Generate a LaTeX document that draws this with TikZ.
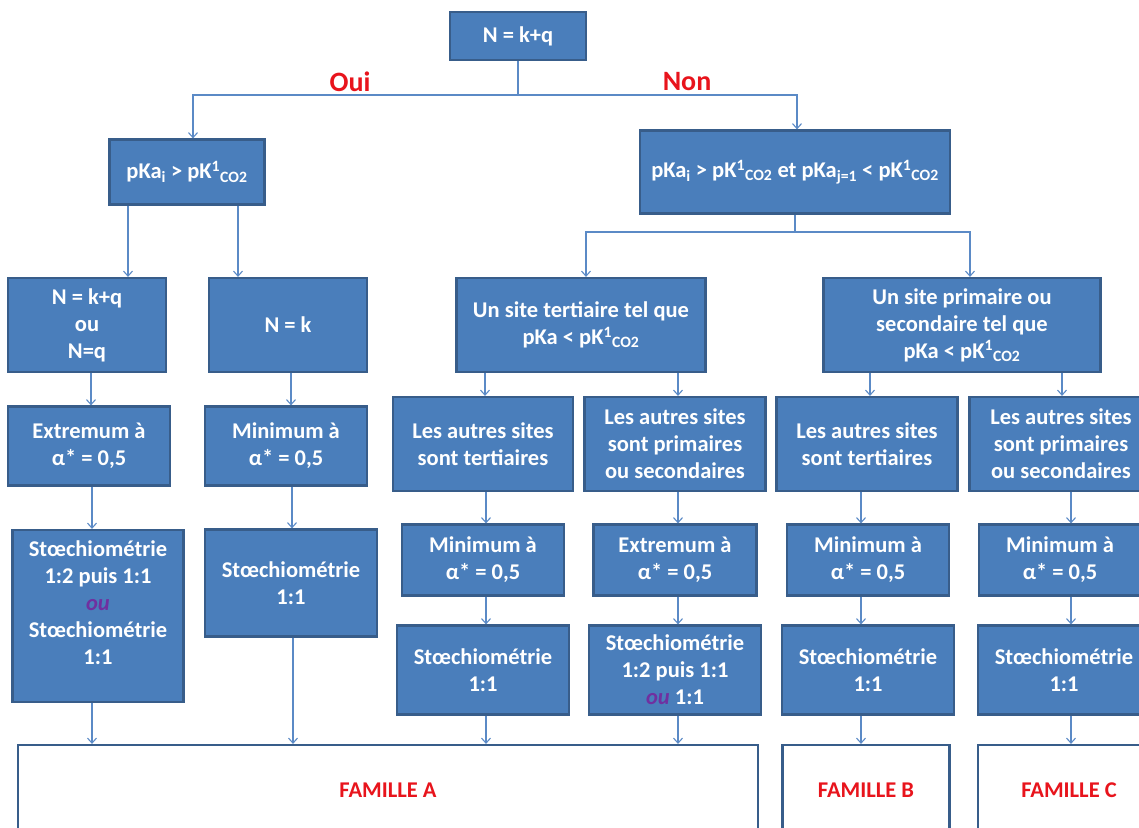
\documentclass[tikz,border=0pt]{standalone}
\usepackage{fontspec}
\setmainfont{Carlito}
\usetikzlibrary{arrows.meta}
\definecolor{boxblue}{HTML}{4A7EBB}
\definecolor{boxedge}{HTML}{385D8A}
\definecolor{linkblue}{HTML}{5B8AC6}
\definecolor{labelred}{HTML}{E8141C}
\definecolor{oupurple}{HTML}{7030A0}
\newcommand{\pkco}{pK\textsuperscript{1}\textsubscript{CO2}}
\newcommand{\oumark}{\textcolor{oupurple}{\itshape ou}}
\tikzstyle{decision} = [
    rectangle,
    draw=boxedge,
    fill=boxblue,
    line width=2.2pt,
    text=white,
    align=center,
    inner sep=2pt,
    font=\bfseries\fontsize{22.5}{27}\selectfont
]
\tikzstyle{family} = [
    rectangle,
    draw=boxedge,
    fill=white,
    line width=2.2pt,
    text=labelred,
    font=\bfseries\fontsize{22.5}{25}\selectfont
]
\tikzstyle{answer} = [text=labelred, font=\bfseries\fontsize{28}{30}\selectfont]
\tikzstyle{arrow} = [-{Straight Barb[length=5pt,width=9pt]}, draw=linkblue, line width=1.1pt]

\begin{document}
\begin{tikzpicture}[x=1pt, y=-1pt]
\useasboundingbox (0,0) rectangle (1139,827);

\node (top) [decision, minimum width=136, minimum height=48] at (518,36) {N = k+q};

\node (pka) [decision, minimum width=155, minimum height=65] at (187,172)
{pKa\textsubscript{i} > \pkco};

\node (pkaet) [decision, minimum width=310, minimum height=83] at (795,172)
{pKa\textsubscript{i} > \pkco{} et pKa\textsubscript{j=1} < \pkco};

\node (oui) [answer] at (350,82) {Oui};
\node (non) [answer] at (687,82) {Non};

% branche Oui
\node (nkq) [decision, minimum width=158, minimum height=94] at (87,325)
{N = k+q\\ou\\N=q};

\node (nk) [decision, minimum width=158, minimum height=94] at (288,325) {N = k};

\node (ext1) [decision, minimum width=162, minimum height=79] at (89,446)
{Extremum à\\α* = 0,5};

\node (min1) [decision, minimum width=162, minimum height=79] at (286,446)
{Minimum à\\α* = 0,5};

\node (sto1) [decision, minimum width=171, minimum height=172] at (98,616)
{Stœchiométrie\\1:2 puis 1:1\\\oumark\\Stœchiométrie\\1:1\\\mbox{}};

\node (sto2) [decision, minimum width=172, minimum height=107] at (291,583)
{Stœchiométrie\\1:1};

% branche Non
\node (ter) [decision, minimum width=249, minimum height=94] at (581,325)
{Un site tertiaire tel que\\pKa < \pkco};

\node (pri) [decision, minimum width=277, minimum height=94] at (962,325)
{Un site primaire ou\\secondaire tel que\\pKa < \pkco};

\node (at1) [decision, minimum width=180, minimum height=94] at (483,444)
{Les autres sites\\sont tertiaires};

\node (ap1) [decision, minimum width=181, minimum height=94] at (675,444)
{Les autres sites\\sont primaires\\ou secondaires};

\node (at2) [decision, minimum width=181, minimum height=94] at (867,444)
{Les autres sites\\sont tertiaires};

\node (ap2) [decision, minimum width=183, minimum height=94] at (1061,444)
{Les autres sites\\sont primaires\\ou secondaires};

\node (minA) [decision, minimum width=162, minimum height=71] at (483,560)
{Minimum à\\α* = 0,5};

\node (extB) [decision, minimum width=163, minimum height=71] at (675,560)
{Extremum à\\α* = 0,5};

\node (minC) [decision, minimum width=162, minimum height=71] at (868,560)
{Minimum à\\α* = 0,5};

\node (minD) [decision, minimum width=162, minimum height=71] at (1060,560)
{Minimum à\\α* = 0,5};

\node (stoA) [decision, minimum width=172, minimum height=89] at (483,670)
{Stœchiométrie\\1:1};

\node (stoB) [decision, minimum width=172, minimum height=89] at (675,670)
{Stœchiométrie\\1:2 puis 1:1\\\oumark{} 1:1};

\node (stoC) [decision, minimum width=172, minimum height=89] at (868,670)
{Stœchiométrie\\1:1};

\node (stoD) [decision, minimum width=172, minimum height=89] at (1064,670)
{Stœchiométrie\\1:1};

% familles
\node (famA) [family, minimum width=740, minimum height=90] at (388,790) {FAMILLE A};
\node (famB) [family, minimum width=167, minimum height=90] at (866,790) {FAMILLE B};
\node (famC) [family, minimum width=182, minimum height=90] at (1069,790) {FAMILLE C};

% liaisons
\coordinate (split) at (518,95);
\coordinate (splitnon) at (795,232);
\draw [arrow] (top.south) -- (split) -| ([xshift=6]pka.north);
\draw [arrow] (split) -| ([xshift=2]pkaet.north);

\coordinate (pkaL) at ([xshift=-59]pka.south);
\coordinate (pkaR) at ([xshift=51]pka.south);
\draw [arrow] (pkaL) -- (pkaL |- nkq.north);
\draw [arrow] (pkaR) -- (pkaR |- nk.north);

\draw [arrow] (pkaet.south) -- (splitnon) -| ([xshift=5]ter.north);
\draw [arrow] (splitnon) -| ([xshift=8]pri.north);

\coordinate (terL) at ([xshift=-96]ter.south);
\coordinate (terR) at ([xshift=97]ter.south);
\coordinate (priL) at ([xshift=-92]pri.south);
\coordinate (priR) at ([xshift=100]pri.south);
\draw [arrow] (terL) -- (terL |- at1.north);
\draw [arrow] (terR) -- (terR |- ap1.north);
\draw [arrow] (priL) -- (priL |- at2.north);
\draw [arrow] (priR) -- (priR |- ap2.north);

\draw [arrow] ([xshift=4]nkq.south) -- ([xshift=4]nkq.south |- ext1.north);
\draw [arrow] ([xshift=3]ext1.south) -- ([xshift=3]ext1.south |- sto1.north);
\draw [arrow] ([xshift=-6]sto1.south) -- ([xshift=-6]sto1.south |- famA.north);
\draw [arrow] ([xshift=3]nk.south) -- ([xshift=3]nk.south |- min1.north);
\draw [arrow] ([xshift=6]min1.south) -- ([xshift=6]min1.south |- sto2.north);
\draw [arrow] ([xshift=2]sto2.south) -- ([xshift=2]sto2.south |- famA.north);

\draw [arrow] ([xshift=3]at1.south) -- ([xshift=3]at1.south |- minA.north);
\draw [arrow] ([xshift=3]minA.south) -- ([xshift=3]minA.south |- stoA.north);
\draw [arrow] ([xshift=3]stoA.south) -- ([xshift=3]stoA.south |- famA.north);
\draw [arrow] ([xshift=3]ap1.south) -- ([xshift=3]ap1.south |- extB.north);
\draw [arrow] ([xshift=3]extB.south) -- ([xshift=3]extB.south |- stoB.north);
\draw [arrow] ([xshift=3]stoB.south) -- ([xshift=3]stoB.south |- famA.north);

\draw [arrow] ([xshift=-6]at2.south) -- ([xshift=-6]at2.south |- minC.north);
\draw [arrow] ([xshift=-7]minC.south) -- ([xshift=-7]minC.south |- stoC.north);
\draw [arrow] ([xshift=-7]stoC.south) -- ([xshift=-7]stoC.south |- famB.north);
\draw [arrow] ([xshift=10]ap2.south) -- ([xshift=10]ap2.south |- minD.north);
\draw [arrow] ([xshift=11]minD.south) -- ([xshift=11]minD.south |- stoD.north);
\draw [arrow] ([xshift=7]stoD.south) -- ([xshift=7]stoD.south |- famC.north);

\end{tikzpicture}
\end{document}
